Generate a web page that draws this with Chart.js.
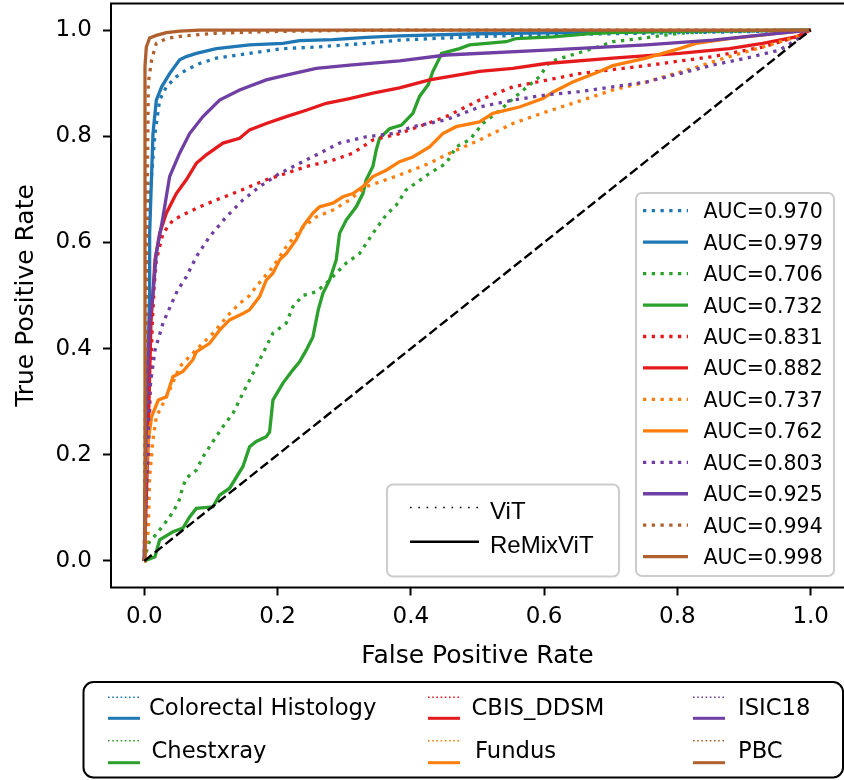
<!DOCTYPE html>
<html>
<head>
<meta charset="utf-8">
<script src="https://cdn.jsdelivr.net/npm/chart.js@4.4.1/dist/chart.umd.min.js"></script>
<style>
  html, body { margin: 0; padding: 0; background: #fff; overflow: hidden; }
  canvas { display: block; }
</style>
</head>
<body>
<canvas id="rocChart" width="844" height="780"></canvas>
<script>
// ROC curves, [fpr, tpr] pairs, ViT vs ReMixViT for each dataset
const datasetNames = ['Colorectal Histology', 'Chestxray', 'CBIS_DDSM', 'Fundus', 'ISIC18', 'PBC'];
const vitAuc = [0.970, 0.706, 0.831, 0.737, 0.803, 0.994];
const remixAuc = [0.979, 0.732, 0.882, 0.762, 0.925, 0.998];
const xTickValues = [0, 0.2, 0.4, 0.6, 0.8, 1.0];
const yTickValues = [0, 0.2, 0.4, 0.6, 0.8, 1.0];

const colorectalVit = [[0,0],[0.002,0.3],[0.003,0.5],[0.008,0.68],[0.016,0.805],[0.023,0.868],[0.033,0.893],[0.048,0.912],[0.063,0.925],[0.083,0.937],[0.108,0.947],[0.158,0.956],[0.208,0.965],[0.258,0.968],[0.333,0.975],[0.383,0.981],[0.503,0.988],[0.65,0.992],[0.8,0.995],[0.903,0.997],[1,1]];
const colorectalRemix = [[0,0],[0.004,0.3],[0.008,0.504],[0.008,0.617],[0.013,0.805],[0.018,0.868],[0.026,0.893],[0.038,0.918],[0.053,0.944],[0.063,0.95],[0.078,0.956],[0.108,0.965],[0.158,0.972],[0.208,0.975],[0.233,0.98],[0.283,0.982],[0.333,0.986],[0.383,0.989],[0.5,0.993],[0.678,0.996],[0.85,0.998],[0.927,0.999],[1,1]];

const chestVit = [[0,0],[0.006,0.033],[0.021,0.055],[0.038,0.083],[0.051,0.109],[0.058,0.14],[0.063,0.156],[0.078,0.171],[0.088,0.196],[0.103,0.225],[0.118,0.253],[0.133,0.278],[0.148,0.316],[0.163,0.353],[0.178,0.391],[0.193,0.429],[0.213,0.448],[0.223,0.479],[0.238,0.5],[0.258,0.507],[0.273,0.523],[0.303,0.561],[0.323,0.579],[0.343,0.617],[0.363,0.652],[0.378,0.67],[0.393,0.699],[0.428,0.73],[0.453,0.749],[0.468,0.78],[0.488,0.793],[0.508,0.824],[0.528,0.843],[0.563,0.881],[0.593,0.912],[0.608,0.94],[0.633,0.95],[0.673,0.965],[0.703,0.978],[0.743,0.984],[0.803,0.994],[0.852,0.997],[1,1]];
const chestRemix = [[0,0],[0.016,0.008],[0.023,0.04],[0.043,0.055],[0.058,0.062],[0.068,0.083],[0.078,0.099],[0.103,0.102],[0.113,0.124],[0.128,0.137],[0.148,0.178],[0.158,0.215],[0.168,0.225],[0.183,0.234],[0.188,0.243],[0.193,0.303],[0.208,0.335],[0.223,0.36],[0.233,0.375],[0.243,0.397],[0.253,0.422],[0.261,0.473],[0.268,0.504],[0.278,0.529],[0.288,0.567],[0.293,0.617],[0.303,0.642],[0.318,0.667],[0.328,0.692],[0.333,0.718],[0.343,0.743],[0.348,0.774],[0.353,0.796],[0.368,0.814],[0.386,0.821],[0.403,0.843],[0.413,0.875],[0.426,0.897],[0.433,0.922],[0.443,0.947],[0.446,0.956],[0.473,0.965],[0.488,0.972],[0.543,0.978],[0.558,0.984],[0.613,0.987],[0.678,0.994],[0.703,0.995],[0.852,0.999],[1,1]];

const cbisVit = [[0,0],[0.006,0.2],[0.012,0.45],[0.015,0.52],[0.018,0.567],[0.028,0.617],[0.043,0.642],[0.063,0.655],[0.083,0.667],[0.108,0.68],[0.133,0.692],[0.158,0.705],[0.183,0.718],[0.213,0.73],[0.243,0.743],[0.283,0.755],[0.313,0.768],[0.343,0.793],[0.383,0.805],[0.453,0.837],[0.503,0.868],[0.553,0.893],[0.653,0.918],[0.753,0.933],[0.853,0.95],[0.928,0.968],[0.978,0.987],[1,1]];
const cbisRemix = [[0,0],[0.005,0.2],[0.01,0.45],[0.013,0.504],[0.016,0.567],[0.023,0.617],[0.033,0.655],[0.048,0.692],[0.063,0.718],[0.078,0.749],[0.093,0.765],[0.118,0.787],[0.143,0.796],[0.158,0.812],[0.183,0.824],[0.213,0.837],[0.243,0.849],[0.273,0.862],[0.308,0.871],[0.343,0.881],[0.383,0.891],[0.428,0.906],[0.503,0.922],[0.553,0.928],[0.603,0.937],[0.703,0.947],[0.803,0.956],[0.878,0.965],[0.928,0.975],[0.978,0.987],[1,1]];

const fundusVit = [[0,0],[0.006,0.058],[0.008,0.159],[0.013,0.228],[0.018,0.272],[0.026,0.291],[0.038,0.322],[0.053,0.366],[0.068,0.385],[0.083,0.404],[0.103,0.429],[0.128,0.466],[0.143,0.485],[0.158,0.5],[0.168,0.517],[0.193,0.554],[0.213,0.592],[0.233,0.623],[0.258,0.648],[0.283,0.661],[0.308,0.68],[0.333,0.705],[0.358,0.716],[0.383,0.727],[0.428,0.749],[0.453,0.765],[0.503,0.793],[0.553,0.824],[0.603,0.846],[0.643,0.862],[0.703,0.887],[0.753,0.902],[0.828,0.93],[0.878,0.95],[0.928,0.968],[0.978,0.987],[1,1]];
const fundusRemix = [[0,0],[0.001,0.134],[0.006,0.228],[0.011,0.272],[0.021,0.303],[0.033,0.309],[0.043,0.347],[0.058,0.357],[0.073,0.379],[0.078,0.394],[0.098,0.41],[0.113,0.435],[0.128,0.454],[0.148,0.466],[0.158,0.473],[0.173,0.498],[0.183,0.529],[0.193,0.542],[0.203,0.567],[0.213,0.579],[0.228,0.605],[0.238,0.63],[0.253,0.655],[0.263,0.667],[0.283,0.674],[0.298,0.686],[0.313,0.692],[0.328,0.705],[0.343,0.724],[0.363,0.736],[0.383,0.752],[0.403,0.761],[0.428,0.78],[0.448,0.805],[0.468,0.818],[0.503,0.827],[0.523,0.843],[0.563,0.855],[0.598,0.871],[0.613,0.883],[0.643,0.902],[0.683,0.922],[0.703,0.933],[0.753,0.947],[0.778,0.956],[0.803,0.965],[0.828,0.975],[0.878,0.984],[0.953,0.994],[1,1]];

const isicVit = [[0,0],[0.003,0.102],[0.006,0.247],[0.008,0.322],[0.016,0.397],[0.028,0.448],[0.041,0.485],[0.05,0.51],[0.063,0.535],[0.078,0.573],[0.098,0.611],[0.123,0.648],[0.148,0.68],[0.173,0.705],[0.203,0.73],[0.233,0.749],[0.263,0.768],[0.293,0.787],[0.333,0.799],[0.373,0.805],[0.403,0.818],[0.453,0.831],[0.503,0.855],[0.553,0.868],[0.603,0.878],[0.653,0.884],[0.703,0.893],[0.753,0.902],[0.803,0.918],[0.853,0.934],[0.903,0.947],[0.953,0.962],[0.978,0.981],[1,1]];
const isicRemix = [[0,0],[0.003,0.3],[0.008,0.45],[0.013,0.504],[0.018,0.579],[0.028,0.648],[0.038,0.724],[0.053,0.768],[0.068,0.805],[0.088,0.837],[0.113,0.868],[0.143,0.887],[0.183,0.906],[0.213,0.915],[0.258,0.928],[0.308,0.934],[0.383,0.942],[0.453,0.953],[0.603,0.962],[0.753,0.972],[0.853,0.981],[0.928,0.991],[1,1]];

const pbcVit = [[0,0],[0.003,0.5],[0.006,0.9],[0.011,0.944],[0.018,0.975],[0.033,0.984],[0.058,0.989],[0.108,0.994],[0.183,0.997],[0.283,0.999],[0.4,1],[1,1]];
const pbcRemix = [[0,0],[0.001,0.5],[0.001,0.931],[0.003,0.968],[0.008,0.985],[0.018,0.99],[0.033,0.995],[0.053,0.998],[0.083,1],[1,1]];

const chanceLine = [[0,0],[1,1]];

const vitCurves = [colorectalVit, chestVit, cbisVit, fundusVit, isicVit, pbcVit];
const remixCurves = [colorectalRemix, chestRemix, cbisRemix, fundusRemix, isicRemix, pbcRemix];

const colors = ['#1f77b4', '#2ca02c', '#e41a1c', '#ff7f0e', '#6f3fa3', '#b0602e'];
const LW = 3.3;
const DOTS = [LW, LW * 1.65];

const toPoints = arr => arr.map(p => ({ x: p[0], y: p[1] }));

const datasets = [];
datasetNames.forEach((name, i) => {
  datasets.push({
    label: name + ' ViT',
    data: toPoints(vitCurves[i]),
    borderColor: colors[i],
    borderWidth: LW,
    borderDash: DOTS
  });
  datasets.push({
    label: name + ' ReMixViT',
    data: toPoints(remixCurves[i]),
    borderColor: colors[i],
    borderWidth: LW
  });
});
datasets.push({
  label: 'chance',
  data: toPoints(chanceLine),
  borderColor: '#000',
  borderWidth: 2.4,
  borderDash: [9.5, 4]
});
// later datasets drawn on top
datasets.forEach((d, i) => {
  d.order = datasets.length - i;
  d.pointRadius = 0;
  d.showLine = true;
  d.tension = 0;
  d.fill = false;
});

function capText(ctx, text, x, capMid, size, family, capRatio) {
  ctx.font = size + 'px ' + family;
  ctx.textBaseline = 'alphabetic';
  ctx.textAlign = 'left';
  ctx.fillStyle = '#000';
  ctx.fillText(text, x, capMid + size * capRatio / 2);
}

function roundBox(ctx, x0, y0, x1, y1, r) {
  ctx.beginPath();
  ctx.moveTo(x0 + r, y0);
  ctx.arcTo(x1, y0, x1, y1, r);
  ctx.arcTo(x1, y1, x0, y1, r);
  ctx.arcTo(x0, y1, x0, y0, r);
  ctx.arcTo(x0, y0, x1, y0, r);
  ctx.closePath();
}

function hLine(ctx, x0, x1, y, color, width, dash) {
  ctx.beginPath();
  ctx.setLineDash(dash || []);
  ctx.strokeStyle = color;
  ctx.lineWidth = width;
  ctx.moveTo(x0, y);
  ctx.lineTo(x1, y);
  ctx.stroke();
  ctx.setLineDash([]);
}

const frameAndLegends = {
  id: 'frameAndLegends',
  afterDraw(chart) {
    const ctx = chart.ctx;
    const a = chart.chartArea;
    ctx.save();

    // axes frame
    ctx.strokeStyle = '#000';
    ctx.lineWidth = 2;
    ctx.strokeRect(a.left, a.top, a.right - a.left + 2, a.bottom - a.top);

    // AUC legend, one row per curve
    const dv = 'DejaVu Sans';
    ctx.fillStyle = 'rgba(255,255,255,0.8)';
    roundBox(ctx, 636, 193, 834, 576, 6);
    ctx.fill();
    ctx.strokeStyle = '#cccccc';
    ctx.lineWidth = 2;
    ctx.stroke();
    let row = 0;
    datasetNames.forEach((name, i) => {
      [[vitAuc[i], DOTS], [remixAuc[i], null]].forEach(([auc, dash]) => {
        const y = 210.7 + row * 31.45;
        hLine(ctx, 643, 688, y, colors[i], LW, dash);
        capText(ctx, 'AUC=' + auc.toFixed(3), 703.5, y, 20.5, dv, 0.729);
        row++;
      });
    });

    // model style legend
    ctx.fillStyle = 'rgba(255,255,255,0.8)';
    roundBox(ctx, 387, 484.5, 619, 576.5, 6);
    ctx.fill();
    ctx.strokeStyle = '#cccccc';
    ctx.lineWidth = 2;
    ctx.stroke();
    hLine(ctx, 410, 479, 507.5, '#000', 1.6, [1.6, 6.7]);
    hLine(ctx, 410, 479, 541.8, '#000', 2.4);
    capText(ctx, 'ViT', 490, 510.5, 24, 'Liberation Sans', 0.716);
    capText(ctx, 'ReMixViT', 490, 544, 24, 'Liberation Sans', 0.716);

    // dataset legend below the axes
    roundBox(ctx, 83.5, 682, 843, 777.5, 10);
    ctx.fillStyle = '#fff';
    ctx.fill();
    ctx.strokeStyle = '#000';
    ctx.lineWidth = 2;
    ctx.stroke();
    const colX = [108, 428, 693];
    const textX = [[149, 151.5], [471.5, 475], [738, 738]];
    const dotY = [697.3, 740.7];
    const solidY = [718.3, 762.7];
    const textY = [706.5, 749.8];
    datasetNames.forEach((name, i) => {
      const c = Math.floor(i / 2);
      const r = i % 2;
      hLine(ctx, colX[c], colX[c] + 32, dotY[r], colors[i], 1.6, [1.6, 2.6]);
      hLine(ctx, colX[c], colX[c] + 32, solidY[r], colors[i], 3);
      capText(ctx, name, textX[c][r], textY[r], 22.7, dv, 0.729);
    });

    ctx.restore();
  }
};

const tickFont = { family: 'DejaVu Sans', size: 23 };
const titleFont = { family: 'DejaVu Sans', size: 25 };

new Chart(document.getElementById('rocChart'), {
  type: 'scatter',
  data: { datasets: datasets },
  options: {
    responsive: false,
    animation: false,
    devicePixelRatio: 1,
    layout: { padding: { top: 3.5, left: 0, right: 0, bottom: 108.5 } },
    plugins: {
      legend: { display: false },
      tooltip: { enabled: false }
    },
    scales: {
      x: {
        type: 'linear',
        min: -0.05,
        max: 1.05,
        afterBuildTicks: scale => { scale.ticks = xTickValues.map(v => ({ value: v })); },
        afterFit: scale => {
          scale.height = 84;
          scale.paddingLeft = 0;
          scale.paddingRight = 0;
        },
        ticks: {
          callback: v => v.toFixed(1),
          font: tickFont,
          color: '#000',
          padding: 8,
          maxRotation: 0
        },
        grid: {
          drawOnChartArea: false,
          drawTicks: true,
          tickLength: 8,
          tickWidth: 2,
          tickColor: '#000'
        },
        border: { display: false },
        title: {
          display: true,
          text: 'False Positive Rate',
          font: titleFont,
          color: '#000',
          padding: { top: 0, bottom: 0 }
        }
      },
      y: {
        type: 'linear',
        min: -0.05,
        max: 1.05,
        afterBuildTicks: scale => { scale.ticks = yTickValues.map(v => ({ value: v })); },
        afterFit: scale => {
          scale.width = 111;
          scale.paddingTop = 0;
          scale.paddingBottom = 0;
        },
        ticks: {
          callback: v => v.toFixed(1),
          font: tickFont,
          color: '#000',
          padding: 11
        },
        grid: {
          drawOnChartArea: false,
          drawTicks: true,
          tickLength: 8,
          tickWidth: 2,
          tickColor: '#000'
        },
        border: { display: false },
        title: {
          display: true,
          text: 'True Positive Rate',
          font: titleFont,
          color: '#000',
          padding: { top: 11, bottom: 0 }
        }
      }
    }
  },
  plugins: [frameAndLegends]
});
</script>
</body>
</html>
